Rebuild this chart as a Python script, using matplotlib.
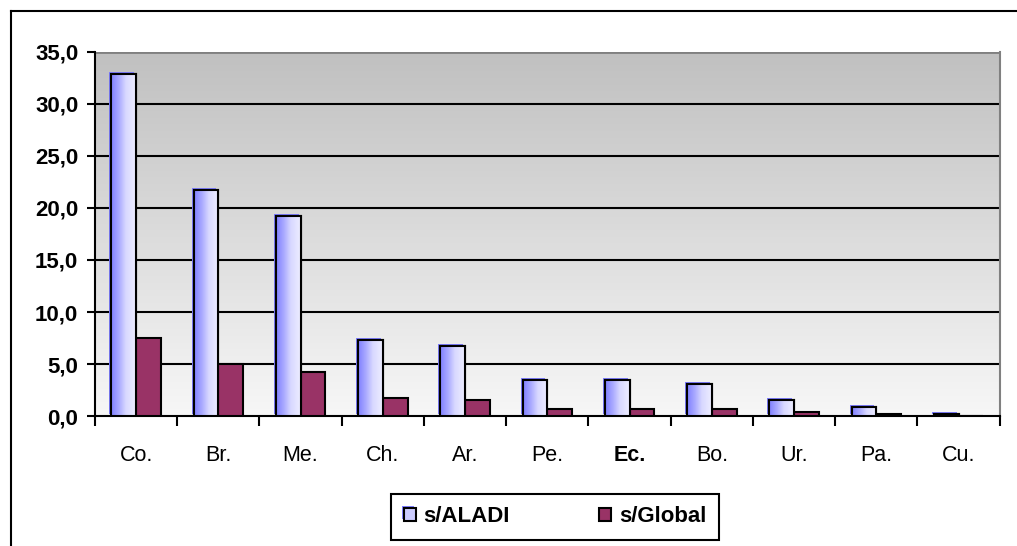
import numpy as np
import matplotlib.pyplot as plt
from matplotlib.colors import LinearSegmentedColormap
from matplotlib.lines import Line2D
import matplotlib.patheffects as pe

plt.rcParams['font.family'] = ['Liberation Sans', 'DejaVu Sans']

#%% data
paises = ['Co.', 'Br.', 'Me.', 'Ch.', 'Ar.', 'Pe.', 'Ec.', 'Bo.', 'Ur.', 'Pa.', 'Cu.']
aladi = [32.9, 21.7, 19.2, 7.3, 6.7, 3.5, 3.5, 3.1, 1.5, 0.9, 0.2]   # s/ALADI
glob = [7.5, 5.0, 4.2, 1.7, 1.5, 0.7, 0.7, 0.7, 0.4, 0.2, 0.05]     # s/Global
yticks = [0, 5, 10, 15, 20, 25, 30, 35]

#%% figure
fig = plt.figure(figsize=(10.17, 5.46), dpi=100)
ax = fig.add_axes([0.0934, 0.238, 0.8896, 0.667])

# outer frame (top and left only visible)
fig.add_artist(Line2D([11/1017, 1], [1-11/546, 1-11/546], color='black', lw=1.5, transform=fig.transFigure))
fig.add_artist(Line2D([11/1017, 11/1017], [0, 1-11/546], color='black', lw=1.5, transform=fig.transFigure))

# background gradient
bg = LinearSegmentedColormap.from_list('bg', ['#f7f7f7', '#c0c0c0'])
ax.imshow(np.linspace(0, 1, 256).reshape(-1, 1), cmap=bg, origin='lower',
          extent=[0, 1, 0, 1], transform=ax.transAxes, aspect='auto', zorder=0)

x = np.arange(len(paises))
w = 0.3
bars1 = ax.bar(x - w/2, aladi, w, color='#ccccff', edgecolor='black', lw=1.5, zorder=3,
               label='s/ALADI',
               path_effects=[pe.SimplePatchShadow(offset=(-1.5, 1.5), shadow_rgbFace='#7f7fff', alpha=1), pe.Normal()])
bars2 = ax.bar(x + w/2, glob, w, color='#993366', edgecolor='black', lw=1.5, zorder=3,
               label='s/Global')

# horizontal gradient on ALADI bars
barc = LinearSegmentedColormap.from_list('bar', [(0, '#8080ff'), (0.3, '#a8a8ff'),
                                                 (0.6, '#d8d8ff'), (1, '#eeeeff')])
for p in bars1:
    im = ax.imshow(np.linspace(0, 1, 64).reshape(1, -1), cmap=barc, aspect='auto',
                   interpolation='bilinear',
                   extent=[p.get_x(), p.get_x()+p.get_width(), 0, p.get_height()], zorder=3.5)
    im.set_clip_path(p)
    # outline on top of gradient
    ax.bar(p.get_x()+p.get_width()/2, p.get_height(), p.get_width(), fill=False,
           edgecolor='black', lw=1.5, zorder=4)

ax.set_xlim(-0.5, len(paises)-0.5)
ax.set_ylim(0, 35)

for t in yticks[1:]:
    ax.axhline(t, color='black', lw=1.5, zorder=1)
ax.axhline(35, color='#808080', lw=2, zorder=2)

ax.set_yticks(yticks)
ax.set_yticklabels([('%.1f' % t).replace('.', ',') for t in yticks], fontweight='bold', size=16)
ax.tick_params(axis='y', length=6, width=1.5, direction='out', pad=6)

ax.set_xticks(x)
ax.set_xticklabels(paises, size=15.5)
ax.tick_params(axis='x', length=0, pad=21)
for lab in ax.get_xticklabels():
    if lab.get_text() == 'Ec.':
        lab.set_fontweight('bold')
ax.set_xticks(np.arange(len(paises)+1) - 0.5, minor=True)
ax.tick_params(axis='x', which='minor', length=7, width=1.5, direction='out')

ax.spines['top'].set_visible(False)
ax.spines['right'].set_color('#808080')
ax.spines['right'].set_linewidth(1.5)
ax.spines['left'].set_linewidth(1.5)
ax.spines['bottom'].set_linewidth(1.5)

leg = fig.legend(handles=[bars1, bars2], loc='center', bbox_to_anchor=(555/1017, 1-517/546),
                 ncol=2, fancybox=False, edgecolor='black', framealpha=1,
                 prop={'weight': 'bold', 'size': 16}, handlelength=0.55, handleheight=0.55,
                 columnspacing=4.0, borderpad=0.55, handletextpad=0.35, borderaxespad=0)
leg.get_frame().set_linewidth(1.5)

fig.savefig('out.png', dpi=100)
